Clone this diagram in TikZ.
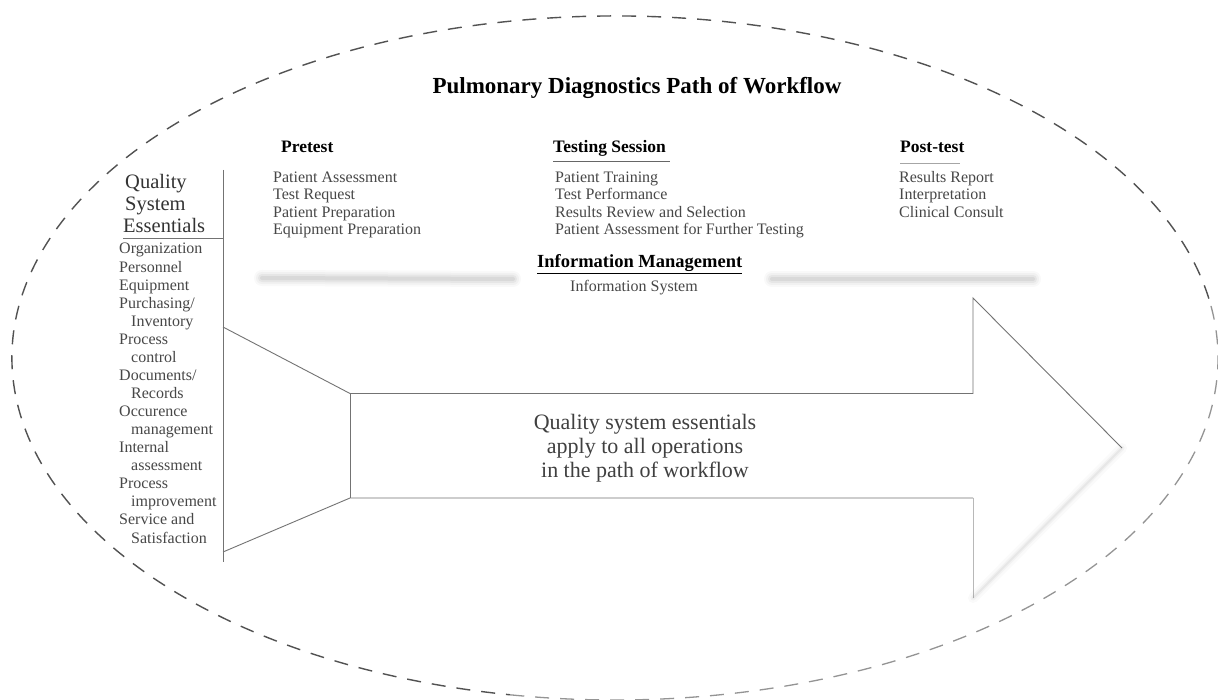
\documentclass[tikz,border=0pt]{standalone}
\usepackage{fontspec}
\setmainfont{Liberation Serif}
\begin{document}
\begin{tikzpicture}[x=1pt,y=-1pt,
  txt/.style={anchor=base west, inner sep=0pt, text=black!72, font=\fontsize{16}{17}\selectfont},
  qtxt/.style={anchor=base west, inner sep=0pt, text=black!72, font=\fontsize{16}{17}\selectfont},
  qhead/.style={anchor=base west, inner sep=0pt, text=black!80, font=\fontsize{20.5}{22}\selectfont},
  hdr/.style={anchor=base west, inner sep=0pt, text=black, font=\fontsize{17.5}{18}\selectfont\bfseries},
  frame/.style={draw=black!55, line width=0.9pt},
  faint/.style={draw=black!28, line width=0.8pt},
  oval/.style={draw=black!68, line width=1.4pt, dash pattern=on 14pt off 11pt},
  ovallight/.style={draw=black!42, line width=1.3pt, dash pattern=on 14pt off 11pt},
  haze/.style={line cap=round, draw=black!45}
]
\useasboundingbox (0,0) rectangle (1218,700);
\fill[white] (0,0) rectangle (1218,700);

% dashed enclosing ellipse (lower right part lighter)
\draw[oval] (615,358) ++(10:603pt and 342pt) arc [start angle=10, end angle=260, x radius=603pt, y radius=342pt];
\draw[ovallight] (615,358) ++(-100:603pt and 342pt) arc [start angle=-100, end angle=10, x radius=603pt, y radius=342pt];

% title
\node[anchor=base, inner sep=0pt, font=\fontsize{23}{24}\selectfont\bfseries] (title) at (637,94) {Pulmonary Diagnostics Path of Workflow};

% phase headers
\node[hdr] (pre) at (281,153) {Pretest};
\node[hdr] (test) at (553,153) {Testing Session};
\node[hdr] (post) at (900,153) {Post-test};
\draw[draw=black!60, line width=1pt] (553,162) -- (670,162);
\draw[draw=black!35, line width=0.8pt] (900,163) -- (960,163);

% pretest list
\node[txt] (pa) at (273,182.5) {Patient Assessment};
\node[txt] (tr) at (273,199.8) {Test Request};
\node[txt] (pp) at (273,217.1) {Patient Preparation};
\node[txt] (ep) at (273,234.4) {Equipment Preparation};

% testing session list
\node[txt] (pt) at (555,182.5) {Patient Training};
\node[txt] (tp) at (555,199.8) {Test Performance};
\node[txt] (rr) at (555,217.1) {Results Review and Selection};
\node[txt] (paf) at (555,234.4) {Patient Assessment for Further Testing};

% post-test list
\node[txt] (rep) at (899,182.5) {Results Report};
\node[txt] (int) at (899,199.8) {Interpretation};
\node[txt] (cc) at (899,217.1) {Clinical Consult};

% information management
\node[anchor=base west, inner sep=0pt, font=\fontsize{18.5}{19}\selectfont\bfseries] (im) at (537,268) {Information Management};
\draw[draw=black, line width=1.1pt] (537,273.5) -- (742,273.5);
\node[txt] (is) at (570,292) {Information System};

% hazy grey double bar
\foreach \w/\o in {16/0.05, 12/0.07, 8/0.10, 4/0.14}{
  \draw[haze, line width=\w pt, opacity=\o] (262,278) -- (513,279);
  \draw[haze, line width=\w pt, opacity=\o] (772,279) -- (1033,279);
}

% quality system essentials column
\node[qhead] (q1) at (125,189) {Quality};
\node[qhead] (q2) at (125,211) {System};
\node[qhead] (q3) at (123,233) {Essentials};
\coordinate (vtop) at (223,170);
\coordinate (vbot) at (223,562);
\coordinate (hl) at (123,238.5);
\coordinate (hr) at (223,238.5);
\draw[frame] (vtop) -- (vbot);
\draw[frame] (hl) -- (hr);

\node[qtxt] (l0) at (119,254) {Organization};
\node[qtxt] (l1) at (119,272.1) {Personnel};
\node[qtxt] (l2) at (119,290.1) {Equipment};
\node[qtxt] (l3) at (119,308.2) {Purchasing/};
\node[qtxt] (l4) at (131,326.2) {Inventory};
\node[qtxt] (l5) at (119,344.3) {Process};
\node[qtxt] (l6) at (131,362.4) {control};
\node[qtxt] (l7) at (119,380.4) {Documents/};
\node[qtxt] (l8) at (131,398.5) {Records};
\node[qtxt] (l9) at (119,416.5) {Occurence};
\node[qtxt] (l10) at (131,434.6) {management};
\node[qtxt] (l11) at (119,452.7) {Internal};
\node[qtxt] (l12) at (131,470.7) {assessment};
\node[qtxt] (l13) at (119,488.8) {Process};
\node[qtxt] (l14) at (131,506.8) {improvement};
\node[qtxt] (l15) at (119,524.9) {Service and};
\node[qtxt] (l16) at (131,543) {Satisfaction};

% funnel and arrow
\coordinate (f1) at (223,327);
\coordinate (f2) at (350,393.5);
\coordinate (f3) at (350,498);
\coordinate (f4) at (223,552);
\coordinate (h1) at (973,393.5);
\coordinate (h2) at (973,298);
\coordinate (tip) at (1122,448);
\coordinate (h4) at (973,498);
\coordinate (h3) at (973,598);
\draw[frame] (f1) -- (f2) -- (h1) -- (h2) -- (tip);
\draw[frame] (f2) -- (f3);
\draw[frame] (f4) -- (f3) -- (h4);
\draw[faint] (h4) -- (h3);
\foreach \w/\o in {10/0.04, 5/0.06, 2/0.09}{
  \draw[line cap=round, draw=black!50, line width=\w pt, opacity=\o] (tip) -- (h3);
}

% central message
\node[align=center, inner sep=0pt, text=black!75, font=\fontsize{22}{24}\selectfont] (msg) at (645,448) {Quality system essentials\\apply to all operations\\in the path of workflow};
\end{tikzpicture}
\end{document}
